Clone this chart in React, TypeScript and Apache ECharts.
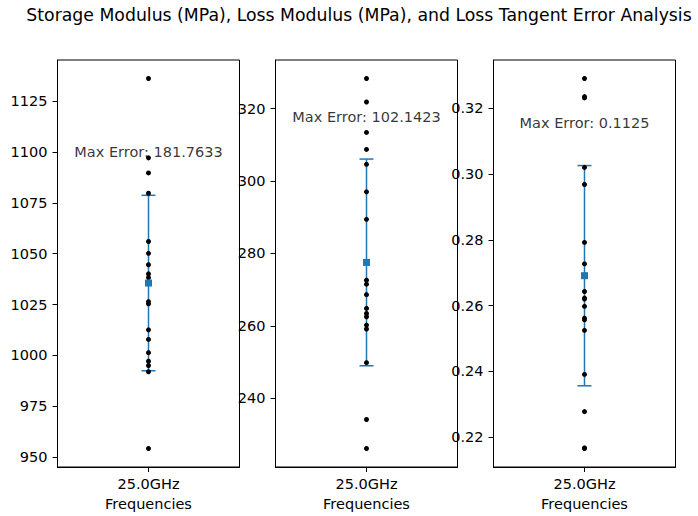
import React, { useEffect, useRef } from "react";
import * as echarts from "echarts";

const categories = ["25.0GHz"];
const storageModulus = [1136.1, 1097.1, 1089.7, 1079.7, 1056.0, 1050.2, 1044.6, 1040.1, 1038.3, 1026.5, 1025.4, 1012.6, 1007.9, 1001.4, 997.2, 995.1, 992.0, 954.3];
const lossModulus = [328.3, 321.8, 313.4, 308.7, 304.6, 297.0, 289.4, 272.6, 271.5, 268.6, 264.8, 263.4, 262.5, 260.2, 259.1, 249.8, 234.1, 226.1];
const lossTangent = [0.329, 0.3235, 0.3231, 0.302, 0.2968, 0.2792, 0.2727, 0.2643, 0.2623, 0.262, 0.2598, 0.2562, 0.2557, 0.2525, 0.2391, 0.2278, 0.2168, 0.2166];
const means = [1035.6, 277.5, 0.2691];
const stdErrors = [43.1, 28.55, 0.03345];
const maxErrors = [181.7633, 102.1423, 0.1125];
const maxErrorLabelY = [1099.8, 317.7, 0.3154];
const ticksStorage = [950, 975, 1000, 1025, 1050, 1075, 1100, 1125];
const ticksLoss = [240, 260, 280, 300, 320];
const ticksTangent = [0.22, 0.24, 0.26, 0.28, 0.3, 0.32];
const tickDecimals = [0, 0, 2];

const title = "Storage Modulus (MPa), Loss Modulus (MPa), and Loss Tangent Error Analysis";
const FONT = "DejaVu Sans";
const BLUE = "#1f77b4";
const FS = 14.5;

export default function App() {
  const ref = useRef<HTMLDivElement>(null);
  useEffect(() => {
    document.body.style.margin = "0";
    if (!ref.current) return;
    const chart = echarts.init(ref.current, null, { renderer: "svg" });
    const panels = [storageModulus, lossModulus, lossTangent];
    const ticks = [ticksStorage, ticksLoss, ticksTangent];
    const lefts = [57.5, 275.5, 493.5];
    const grids: any[] = [];
    const xAxes: any[] = [];
    const yAxes: any[] = [];
    const series: any[] = [];
    panels.forEach((vals, i) => {
      const mn = Math.min(...vals);
      const mx = Math.max(...vals);
      const pad = (mx - mn) * 0.05;
      grids.push({
        left: lefts[i],
        top: 60,
        width: 182,
        height: 409,
        show: true,
        borderColor: "#000",
        borderWidth: 1,
        backgroundColor: "transparent",
      });
      xAxes.push({
        type: "category",
        gridIndex: i,
        data: categories,
        boundaryGap: true,
        axisLine: { show: true, lineStyle: { color: "#000", width: 1 } },
        axisTick: { show: true, alignWithLabel: true, inside: false, length: 5, lineStyle: { color: "#000" } },
        axisLabel: { color: "#000", fontSize: FS, fontFamily: FONT, margin: 9 },
        name: "Frequencies",
        nameLocation: "middle",
        nameGap: 29,
        nameTextStyle: { color: "#000", fontSize: FS, fontFamily: FONT },
        splitLine: { show: false },
      });
      yAxes.push({
        type: "value",
        gridIndex: i,
        min: mn - pad,
        max: mx + pad,
        axisLine: { show: true, lineStyle: { color: "#000", width: 1 } },
        axisTick: { show: true, inside: false, length: 5, lineStyle: { color: "#000" }, customValues: ticks[i] },
        axisLabel: {
          color: "#000",
          fontSize: FS,
          fontFamily: FONT,
          margin: 10,
          customValues: ticks[i],
          formatter: (v: number) => v.toFixed(tickDecimals[i]),
        },
        splitLine: { show: false },
      });
      series.push({
        type: "custom",
        xAxisIndex: i,
        yAxisIndex: i,
        z: 1,
        data: [[0, means[i], stdErrors[i]]],
        encode: { x: 0, y: 1 },
        renderItem: (params: any, api: any) => {
          const m = api.value(1);
          const e = api.value(2);
          const top = api.coord([0, m + e]);
          const bot = api.coord([0, m - e]);
          const hw = 7;
          const st = { stroke: BLUE, lineWidth: 1.5 };
          return {
            type: "group",
            children: [
              { type: "line", shape: { x1: top[0], y1: top[1], x2: bot[0], y2: bot[1] }, style: st },
              { type: "line", shape: { x1: top[0] - hw, y1: top[1], x2: top[0] + hw, y2: top[1] }, style: st },
              { type: "line", shape: { x1: bot[0] - hw, y1: bot[1], x2: bot[0] + hw, y2: bot[1] }, style: st },
            ],
          };
        },
      });
      series.push({
        type: "scatter",
        xAxisIndex: i,
        yAxisIndex: i,
        z: 2,
        symbol: "circle",
        symbolSize: 5,
        itemStyle: { color: "#000", opacity: 1 },
        data: vals.map((v) => [0, v]),
      });
      series.push({
        type: "scatter",
        xAxisIndex: i,
        yAxisIndex: i,
        z: 3,
        symbol: "rect",
        symbolSize: 7,
        itemStyle: { color: BLUE, opacity: 1 },
        data: [[0, means[i]]],
      });
      series.push({
        type: "scatter",
        xAxisIndex: i,
        yAxisIndex: i,
        z: 4,
        symbol: "circle",
        symbolSize: 1,
        itemStyle: { color: "transparent" },
        label: {
          show: true,
          position: "inside",
          formatter: "Max Error: " + maxErrors[i].toFixed(4),
          color: "#000",
          fontSize: FS,
          fontFamily: FONT,
        },
        data: [[0, maxErrorLabelY[i]]],
      });
    });
    chart.setOption({
      animation: false,
      backgroundColor: "#fff",
      title: {
        text: title,
        left: 354,
        top: 1,
        textAlign: "center",
        textStyle: { color: "#000", fontSize: 17.3, fontWeight: "normal", fontFamily: FONT },
      },
      grid: grids,
      xAxis: xAxes,
      yAxis: yAxes,
      series,
    });
    return () => chart.dispose();
  }, []);
  return <div ref={ref} style={{ width: 698, height: 516 }} />;
}
